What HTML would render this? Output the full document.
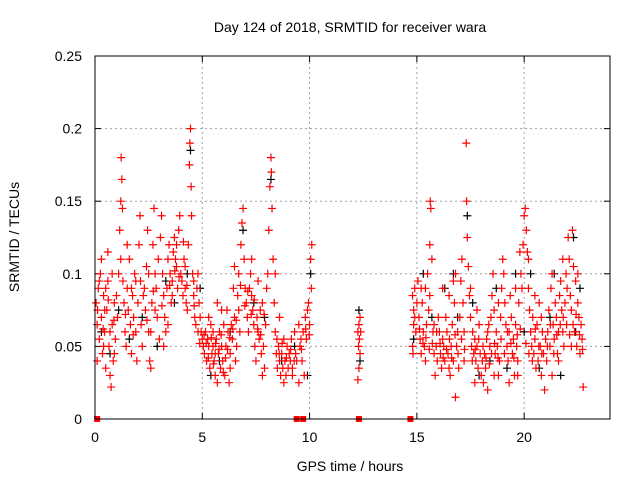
<!DOCTYPE html>
<html><head><meta charset="utf-8"><style>
html,body{margin:0;padding:0;background:#fff;}
svg{display:block;font-family:"Liberation Sans",sans-serif;}
</style></head><body>
<svg id="chart" width="640" height="480" viewBox="0 0 640 480" xmlns="http://www.w3.org/2000/svg">
<rect width="640" height="480" fill="#fff"/>
<text x="350" y="32" font-size="14" text-anchor="middle">Day 124 of 2018, SRMTID for receiver wara</text>
<text x="350" y="471" font-size="14" text-anchor="middle">GPS time / hours</text>
<text transform="translate(19,237) rotate(-90)" font-size="14" text-anchor="middle">SRMTID / TECUs</text>
<g id="grid"></g>
<g id="ticks"></g>
<g id="black"></g>
<g id="red"></g>
<rect x="95" y="56" width="515" height="363" fill="none" stroke="#000" stroke-width="1"/>
</svg>
<script>
const xTicks = [0, 5, 10, 15, 20];
const yTicks = [0, 0.05, 0.1, 0.15, 0.2, 0.25];
const yTickLabels = ["0", "0.05", "0.1", "0.15", "0.2", "0.25"];
const zeroPoints = [0.1, 9.4, 9.7, 12.3, 14.7];
const redPoints = [
[0.05,0.08],[0.1,0.065],[0.15,0.09],[0.2,0.055],[0.25,0.1],[0.3,0.07],[0.35,0.045],[0.4,0.085],[0.45,0.06],[0.5,0.035],[0.55,0.075],[0.6,0.095],[0.65,0.05],[0.7,0.03],[0.75,0.022],[0.8,0.065],[0.85,0.04],[0.9,0.08],[0.95,0.055],[0.3,0.11],[0.6,0.115],[0.2,0.095],[0.4,0.05],[0.5,0.09],[0.8,0.1],[0.9,0.045],[0.1,0.04],[0.7,0.06],[1.0,0.085],[0.45,0.075],
[1.05,0.07],[1.1,0.1],[1.15,0.13],[1.2,0.15],[1.22,0.18],[1.25,0.165],[1.28,0.145],[1.3,0.095],[1.35,0.08],[1.4,0.06],[1.45,0.05],[1.5,0.09],[1.55,0.075],[1.6,0.11],[1.65,0.065],[1.7,0.045],[1.75,0.085],[1.8,0.07],[1.85,0.1],[1.9,0.06],[1.95,0.04],[2.0,0.08],[1.2,0.11],[1.5,0.12],[1.7,0.09],[1.9,0.095],
[2.05,0.12],[2.1,0.14],[2.15,0.065],[2.2,0.05],[2.3,0.09],[2.35,0.075],[2.4,0.105],[2.45,0.13],[2.5,0.06],[2.55,0.04],[2.6,0.035],[2.65,0.08],[2.7,0.12],[2.75,0.145],[2.8,0.1],[2.85,0.09],[2.9,0.07],[2.95,0.11],[3.0,0.055],[2.25,0.085],[2.5,0.1],[2.8,0.075],[2.6,0.06],
[3.05,0.125],[3.1,0.14],[3.15,0.1],[3.2,0.085],[3.25,0.07],[3.3,0.06],[3.35,0.09],[3.4,0.11],[3.45,0.12],[3.5,0.1],[3.55,0.08],[3.6,0.095],[3.65,0.115],[3.7,0.125],[3.75,0.11],[3.8,0.105],[3.85,0.09],[3.9,0.13],[3.95,0.14],[4.0,0.1],[3.2,0.05],[3.4,0.065],[3.6,0.085],[3.8,0.12],
[4.05,0.095],[4.1,0.085],[4.15,0.11],[4.2,0.09],[4.25,0.08],[4.3,0.075],[4.35,0.12],[4.4,0.175],[4.42,0.19],[4.45,0.2],[4.48,0.16],[4.5,0.14],[4.55,0.1],[4.6,0.085],[4.65,0.07],[4.7,0.065],[4.75,0.09],[4.8,0.1],[4.85,0.08],[4.9,0.07],[4.95,0.06],[5.0,0.055],[4.2,0.105],[4.6,0.095],[4.8,0.06],
[5.05,0.05],[5.1,0.045],[5.15,0.06],[5.2,0.04],[5.25,0.055],[5.3,0.05],[5.35,0.035],[5.4,0.065],[5.45,0.045],[5.5,0.05],[5.55,0.04],[5.6,0.03],[5.65,0.055],[5.7,0.025],[5.75,0.045],[5.8,0.06],[5.85,0.035],[5.9,0.05],[5.95,0.04],[6.0,0.065],[5.3,0.07],[5.5,0.06],[5.7,0.08],[5.9,0.075],[5.6,0.045],
[6.05,0.03],[6.1,0.05],[6.15,0.075],[6.2,0.06],[6.25,0.025],[6.3,0.045],[6.35,0.065],[6.4,0.055],[6.45,0.09],[6.5,0.07],[6.55,0.04],[6.6,0.05],[6.65,0.085],[6.7,0.1],[6.75,0.06],[6.8,0.12],[6.85,0.135],[6.9,0.145],[6.95,0.11],[7.0,0.09],[6.3,0.035],[6.5,0.105],[6.7,0.075],
[7.05,0.08],[7.1,0.07],[7.15,0.06],[7.2,0.09],[7.25,0.1],[7.3,0.085],[7.35,0.075],[7.4,0.065],[7.45,0.05],[7.5,0.04],[7.55,0.07],[7.6,0.06],[7.65,0.055],[7.7,0.075],[7.75,0.045],[7.8,0.08],[7.85,0.05],[7.9,0.035],[7.95,0.065],[8.0,0.09],[7.3,0.11],[7.6,0.095],[7.8,0.03],
[8.05,0.1],[8.1,0.13],[8.15,0.16],[8.2,0.18],[8.22,0.17],[8.25,0.145],[8.3,0.11],[8.35,0.08],[8.4,0.06],[8.45,0.045],[8.5,0.035],[8.55,0.05],[8.6,0.04],[8.65,0.03],[8.7,0.045],[8.75,0.035],[8.8,0.055],[8.85,0.04],[8.9,0.03],[8.95,0.05],[9.0,0.035],[8.4,0.1],[8.6,0.07],[8.8,0.025],
[9.05,0.045],[9.1,0.04],[9.15,0.055],[9.2,0.035],[9.3,0.06],[9.35,0.045],[9.4,0.04],[9.5,0.065],[9.55,0.05],[9.6,0.055],[9.65,0.04],[9.7,0.06],[9.75,0.03],[9.8,0.07],[9.85,0.055],[9.9,0.075],[9.95,0.08],[10.0,0.065],[10.05,0.11],[10.1,0.12],[10.08,0.09],[9.2,0.03],[9.5,0.025],
[12.25,0.06],[12.3,0.065],[12.32,0.055],[12.35,0.045],[12.3,0.035],[12.28,0.05],[12.35,0.07],[12.38,0.06],[12.25,0.027],
[14.8,0.085],[14.85,0.075],[14.8,0.05],[14.85,0.065],[14.9,0.09],[14.95,0.06],[15.0,0.08],[14.82,0.045],[14.9,0.07],
[15.05,0.095],[15.1,0.07],[15.15,0.055],[15.2,0.045],[15.25,0.08],[15.3,0.06],[15.35,0.05],[15.4,0.09],[15.45,0.065],[15.5,0.1],[15.55,0.075],[15.6,0.12],[15.62,0.15],[15.65,0.145],[15.7,0.11],[15.75,0.06],[15.8,0.045],[15.85,0.03],[15.9,0.05],[15.95,0.04],[16.0,0.07],[15.2,0.09],[15.4,0.04],[15.6,0.085],[15.8,0.065],
[16.05,0.06],[16.1,0.045],[16.15,0.035],[16.2,0.055],[16.25,0.05],[16.3,0.04],[16.35,0.07],[16.4,0.06],[16.45,0.045],[16.5,0.085],[16.55,0.03],[16.6,0.05],[16.65,0.065],[16.7,0.04],[16.75,0.08],[16.8,0.1],[16.85,0.05],[16.9,0.06],[16.95,0.035],[17.0,0.07],[16.2,0.09],[16.5,0.035],[16.7,0.095],[16.8,0.015],
[17.05,0.095],[17.1,0.11],[17.15,0.08],[17.2,0.06],[17.3,0.19],[17.32,0.15],[17.35,0.125],[17.4,0.105],[17.45,0.085],[17.5,0.07],[17.55,0.05],[17.6,0.06],[17.65,0.045],[17.7,0.055],[17.75,0.04],[17.8,0.05],[17.85,0.035],[17.9,0.065],[17.95,0.045],[18.0,0.03],[17.2,0.04],[17.5,0.09],[17.7,0.025],[17.8,0.075],
[18.05,0.04],[18.1,0.025],[18.15,0.045],[18.2,0.035],[18.25,0.055],[18.3,0.06],[18.35,0.065],[18.4,0.05],[18.45,0.07],[18.5,0.085],[18.55,0.1],[18.6,0.075],[18.65,0.045],[18.7,0.06],[18.75,0.05],[18.8,0.03],[18.85,0.04],[18.9,0.07],[18.95,0.09],[19.0,0.11],[18.3,0.02],[18.6,0.03],[18.8,0.08],
[19.05,0.1],[19.1,0.08],[19.15,0.065],[19.2,0.05],[19.25,0.04],[19.3,0.06],[19.35,0.085],[19.4,0.07],[19.45,0.045],[19.5,0.055],[19.55,0.03],[19.6,0.065],[19.65,0.05],[19.7,0.04],[19.75,0.08],[19.8,0.115],[19.85,0.1],[19.9,0.09],[19.95,0.12],[20.0,0.14],[19.3,0.025],[19.6,0.09],[19.7,0.03],
[20.05,0.145],[20.1,0.13],[20.15,0.115],[20.2,0.09],[20.25,0.075],[20.3,0.06],[20.35,0.05],[20.4,0.07],[20.45,0.045],[20.5,0.055],[20.55,0.035],[20.6,0.065],[20.65,0.04],[20.7,0.08],[20.75,0.05],[20.8,0.03],[20.85,0.06],[20.9,0.045],[20.95,0.02],[21.0,0.055],[20.2,0.11],[20.5,0.085],[20.8,0.07],
[21.05,0.04],[21.1,0.06],[21.15,0.075],[21.2,0.05],[21.25,0.09],[21.3,0.1],[21.35,0.065],[21.4,0.055],[21.45,0.08],[21.5,0.07],[21.55,0.045],[21.6,0.06],[21.65,0.085],[21.7,0.095],[21.75,0.075],[21.8,0.06],[21.85,0.05],[21.9,0.08],[21.95,0.1],[22.0,0.09],[21.3,0.03],[21.6,0.04],[21.8,0.11],
[22.05,0.125],[22.1,0.11],[22.15,0.085],[22.2,0.075],[22.25,0.13],[22.3,0.105],[22.35,0.06],[22.4,0.095],[22.45,0.05],[22.5,0.08],[22.55,0.07],[22.6,0.045],[22.65,0.065],[22.7,0.055],[22.75,0.022],[22.2,0.05],[22.5,0.1],
[0.12,0.075],[0.38,0.062],[0.62,0.082],[0.88,0.068],[1.42,0.072],[1.78,0.058],[2.12,0.095],[2.42,0.068],[2.72,0.088],[3.12,0.078],[3.48,0.092],[3.72,0.102],[3.92,0.098],[4.12,0.122],[4.28,0.092],[4.62,0.078],[4.88,0.052],
[5.08,0.058],[5.18,0.052],[5.28,0.042],[5.42,0.056],[5.52,0.038],[5.62,0.052],[5.78,0.048],[5.88,0.058],[5.98,0.032],[6.08,0.042],[6.18,0.048],[6.28,0.056],[6.42,0.062],[6.58,0.068],[6.78,0.092],[6.98,0.078],[7.12,0.088],[7.28,0.072],[7.42,0.082],[7.58,0.062],[7.72,0.058],[7.88,0.072],[8.48,0.055],[8.58,0.045],[8.72,0.052],[8.92,0.042],[9.12,0.048],[9.28,0.04],[9.62,0.048],[9.82,0.062],[9.98,0.058],
[15.12,0.062],[15.28,0.052],[15.42,0.056],[15.58,0.048],[15.72,0.052],[15.92,0.06],[16.08,0.052],[16.22,0.042],[16.38,0.048],[16.52,0.055],[16.62,0.042],[16.78,0.058],[16.92,0.045],[17.08,0.055],[17.22,0.048],[17.58,0.04],[17.72,0.048],[17.88,0.055],[18.08,0.05],[18.22,0.042],[18.38,0.038],[18.48,0.045],[18.62,0.052],[18.78,0.042],[18.92,0.055],[19.08,0.045],[19.22,0.06],[19.38,0.052],[19.52,0.042],[19.68,0.058],[19.82,0.062],[20.08,0.052],[20.22,0.045],[20.38,0.04],[20.52,0.062],[20.68,0.05],[20.82,0.045],[21.08,0.05],[21.22,0.065],[21.38,0.045],[21.52,0.058],[21.68,0.065],[21.82,0.07],[21.98,0.065],[22.12,0.058],[22.28,0.065],[22.42,0.072],[22.58,0.058],[22.72,0.048]
];
const blackPoints = [
[0.3,0.06],[0.7,0.045],[1.1,0.075],[1.6,0.055],[2.2,0.07],[2.9,0.05],[3.3,0.095],[3.7,0.08],[4.45,0.185],[4.3,0.1],[4.9,0.09],[5.4,0.03],[5.8,0.04],[6.3,0.06],[6.9,0.13],[7.4,0.08],[7.9,0.07],[8.2,0.165],[8.7,0.04],[9.3,0.05],[9.9,0.03],[10.05,0.1],[12.3,0.075],[12.35,0.04],[14.85,0.055],[15.3,0.1],[15.7,0.07],[16.3,0.09],[16.7,0.1],[16.9,0.07],[17.35,0.14],[17.6,0.08],[17.9,0.03],[18.4,0.04],[18.7,0.09],[19.2,0.035],[19.6,0.1],[20.0,0.06],[20.3,0.1],[20.7,0.035],[21.2,0.07],[21.4,0.1],[21.7,0.03],[22.3,0.125],[22.6,0.09],[22.4,0.06]
];
const X0=95,X1=610,Y0=419,Y1=56,XMAX=24,YMAX=0.25;
function sx(t){return X0+(X1-X0)*t/XMAX;}
function sy(v){return Y0-(Y0-Y1)*v/YMAX;}
const NS="http://www.w3.org/2000/svg";
function mk(tag,attrs,parent){const e=document.createElementNS(NS,tag);for(const k in attrs)e.setAttribute(k,attrs[k]);parent.appendChild(e);return e;}
const grid=document.getElementById('grid'),ticks=document.getElementById('ticks');
xTicks.forEach(t=>{
  const x=sx(t);
  if(t>0){const g=mk('line',{x1:x,y1:Y0,x2:x,y2:Y1,stroke:'#a0a0a0','stroke-dasharray':'2,3'},grid);
  
  }
  mk('line',{x1:x,y1:Y0,x2:x,y2:Y0-6,stroke:'#000'},ticks);
  mk('line',{x1:x,y1:Y1,x2:x,y2:Y1+6,stroke:'#000'},ticks);
  const l=mk('text',{x:x,y:442,'font-size':14,'text-anchor':'middle'},ticks);l.textContent=String(t);
  
  
});
yTicks.forEach((v,i)=>{
  const y=sy(v);
  if(v>0&&v<YMAX){const g=mk('line',{x1:X0,y1:y,x2:X1,y2:y,stroke:'#a0a0a0','stroke-dasharray':'2,3'},grid);
  
  }
  mk('line',{x1:X0,y1:y,x2:X0+6,y2:y,stroke:'#000'},ticks);
  mk('line',{x1:X1,y1:y,x2:X1-6,y2:y,stroke:'#000'},ticks);
  const l=mk('text',{x:82,y:y+5,'font-size':14,'text-anchor':'end'},ticks);l.textContent=yTickLabels[i];
  
  
});
function plus(g,t,v,c){
  const x=sx(t),y=sy(v);
  const p=mk('path',{d:`M${x-4} ${y}H${x+4}M${x} ${y-4}V${y+4}`,stroke:c,'stroke-width':1.2,fill:'none'},g);
  
  
}
const bg=document.getElementById('black'),rg=document.getElementById('red');
blackPoints.forEach(p=>plus(bg,p[0],p[1],'#000'));
redPoints.forEach(p=>plus(rg,p[0],p[1],'#ff0000'));
zeroPoints.forEach(t=>{
  const r=mk('rect',{x:sx(t)-3,y:Y0-3,width:6,height:6,fill:'#ff0000'},rg);
  
  
});
</script>
</body></html>
